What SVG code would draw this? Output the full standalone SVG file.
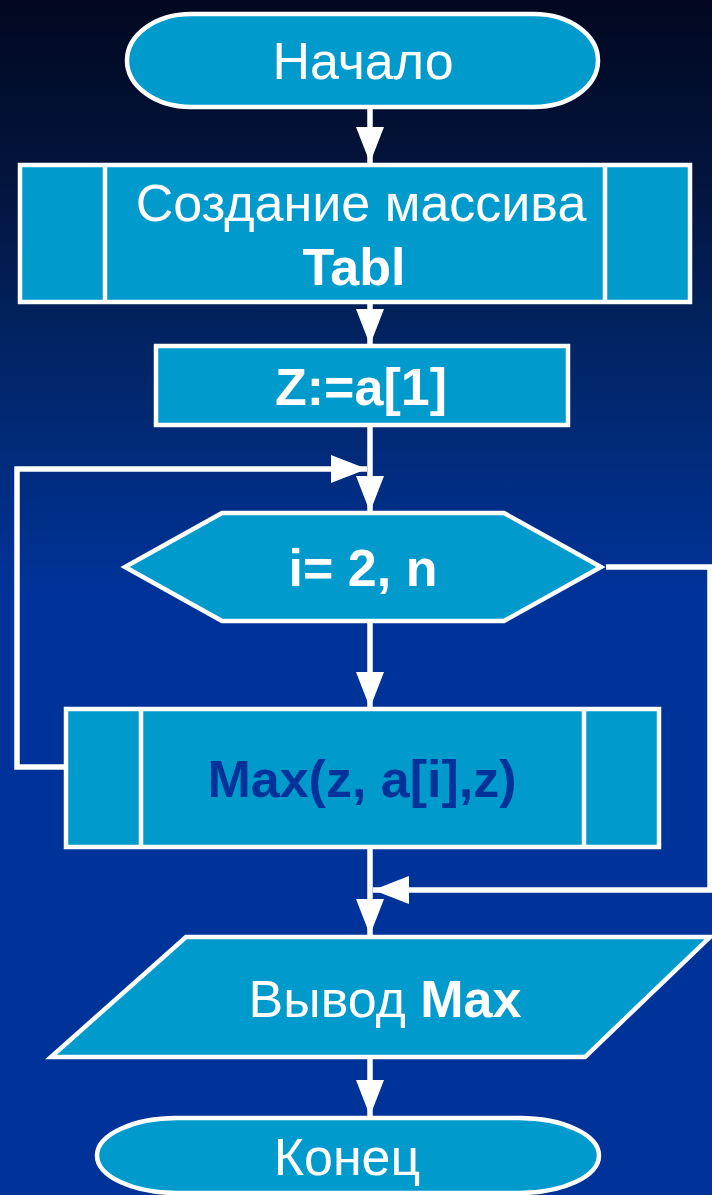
<svg xmlns="http://www.w3.org/2000/svg" width="712" height="1195" viewBox="0 0 712 1195">
  <defs>
    <linearGradient id="bg" x1="0" y1="0" x2="0" y2="1">
      <stop offset="0" stop-color="#010820"/>
      <stop offset="0.15" stop-color="#03143d"/>
      <stop offset="0.3" stop-color="#012566"/>
      <stop offset="0.5" stop-color="#00339a"/>
      <stop offset="1" stop-color="#00339a"/>
    </linearGradient>
    <marker id="arr" markerUnits="userSpaceOnUse" markerWidth="36" markerHeight="28" refX="36" refY="14" orient="auto" viewBox="0 0 36 28">
      <path d="M0,0 L36,14 L0,28 Z" fill="#ffffff"/>
    </marker>
  </defs>
  <style>
    .node { fill: #009acc; stroke: #ffffff; stroke-width: 4.5; }
    .inner { fill: none; stroke: #ffffff; stroke-width: 4.5; }
    .conn { fill: none; stroke: #ffffff; stroke-width: 5.5; }
    .t { font-family: "Liberation Sans", Arial, sans-serif; font-size: 52px; fill: #ffffff; text-anchor: middle; }
    .b { font-weight: bold; }
    .dark { fill: #003399; }
  </style>
  <rect x="0" y="0" width="712" height="1195" fill="url(#bg)"/>

  <g id="connectors">
    <path class="conn" d="M370,107 V163" marker-end="url(#arr)"/>
    <path class="conn" d="M370,304 V345" marker-end="url(#arr)"/>
    <path class="conn" d="M370,426 V512" marker-end="url(#arr)"/>
    <path class="conn" d="M65,767 H17 V469 H367" marker-end="url(#arr)"/>
    <path class="conn" d="M370,622 V708" marker-end="url(#arr)"/>
    <path class="conn" d="M606,567 H710 V890 H373" marker-end="url(#arr)"/>
    <path class="conn" d="M370,848 V935" marker-end="url(#arr)"/>
    <path class="conn" d="M370,1059 V1116" marker-end="url(#arr)"/>
  </g>

  <g id="start">
    <rect class="node" x="127" y="14" width="471" height="93" rx="64" ry="46.5"/>
    <text class="t" x="363" y="79">Начало</text>
  </g>

  <g id="create-array">
    <rect class="node" x="20" y="165" width="670" height="137"/>
    <line class="inner" x1="105" y1="165" x2="105" y2="302"/>
    <line class="inner" x1="605" y1="165" x2="605" y2="302"/>
    <text class="t" x="361" y="221">Создание массива</text>
    <text class="t b" x="354" y="285">Tabl</text>
  </g>

  <g id="assign">
    <rect class="node" x="156" y="346" width="412" height="79"/>
    <text class="t b" x="361" y="405">Z:=a[1]</text>
  </g>

  <g id="loop">
    <polygon class="node" points="125,567 222,513 504,513 601,567 504,621 222,621"/>
    <text class="t b" x="363" y="586">i= 2, n</text>
  </g>

  <g id="max-call">
    <rect class="node" x="66" y="709" width="593" height="138"/>
    <line class="inner" x1="141" y1="709" x2="141" y2="847"/>
    <line class="inner" x1="584" y1="709" x2="584" y2="847"/>
    <text class="t b dark" x="362" y="797">Max(z, a[i],z)</text>
  </g>

  <g id="output">
    <polygon class="node" points="186,937 710,937 585,1057 51,1057"/>
    <text class="t" x="385" y="1017">Вывод <tspan class="b">Max</tspan></text>
  </g>

  <g id="end">
    <rect class="node" x="97" y="1118" width="502" height="75" rx="80" ry="37.5"/>
    <text class="t" x="347" y="1175">Конец</text>
  </g>
</svg>
